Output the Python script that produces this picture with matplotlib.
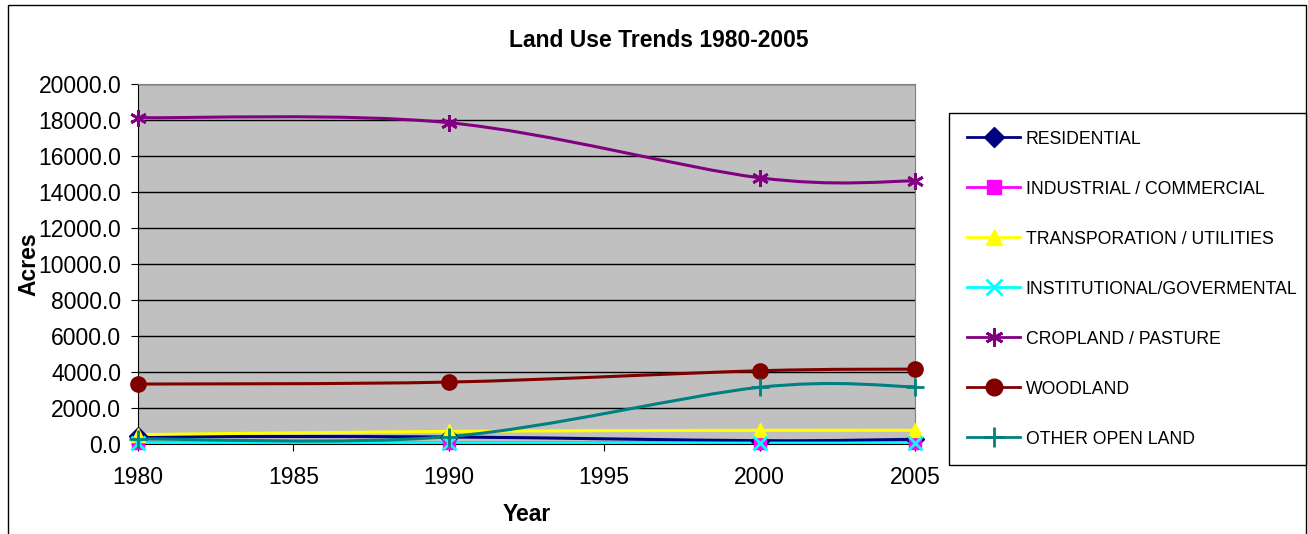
import matplotlib
matplotlib.use('Agg')
import matplotlib.pyplot as plt
from matplotlib.path import Path
from matplotlib.patches import PathPatch, Rectangle
from matplotlib.lines import Line2D
from matplotlib.ticker import FormatStrFormatter

plt.rcParams['font.family'] = ['Liberation Sans', 'DejaVu Sans']

# data
years = [1980, 1990, 2000, 2005]
residential = [420, 390, 185, 260]
industrial = [50, 50, 50, 50]
transportation = [520, 700, 760, 760]
institutional = [40, 40, 40, 40]
cropland = [18130, 17850, 14790, 14610]
woodland = [3330, 3440, 4070, 4160]
other_open = [280, 410, 3150, 3180]

series_names = ['RESIDENTIAL', 'INDUSTRIAL / COMMERCIAL', 'TRANSPORATION / UTILITIES',
                'INSTITUTIONAL/GOVERMENTAL', 'CROPLAND / PASTURE', 'WOODLAND', 'OTHER OPEN LAND']
series_values = [residential, industrial, transportation, institutional, cropland, woodland, other_open]
colors = ['#000080', '#FF00FF', '#FFFF00', '#00FFFF', '#800080', '#800000', '#008080']
markers = ['D', 's', '^', 'x', (6, 2, 0), 'o', '+']
msizes = [9, 9, 10, 10, 12, 11, 13]

W, H = 1308, 534


def smooth_path(xs, ys):
    # Excel style smoothed line: cubic bezier through the points
    pts = list(zip(xs, ys))
    n = len(pts)
    verts = [pts[0]]
    codes = [Path.MOVETO]
    for i in range(n - 1):
        p0 = pts[i - 1] if i > 0 else pts[i]
        p1 = pts[i]
        p2 = pts[i + 1]
        p3 = pts[i + 2] if i + 2 < n else pts[i + 1]
        c1 = (p1[0] + (p2[0] - p0[0]) / 6, p1[1] + (p2[1] - p0[1]) / 6)
        c2 = (p2[0] - (p3[0] - p1[0]) / 6, p2[1] - (p3[1] - p1[1]) / 6)
        verts += [c1, c2, p2]
        codes += [Path.CURVE4] * 3
    return Path(verts, codes)


fig = plt.figure(figsize=(W / 100, H / 100), dpi=100)
ax = fig.add_axes([138 / W, 1 - 444 / H, (915 - 138) / W, (444 - 84) / H])
ax.set_facecolor('#C0C0C0')

for name, vals, c, m, ms in zip(series_names, series_values, colors, markers, msizes):
    patch = PathPatch(smooth_path(years, vals), fill=False, edgecolor=c, lw=2.2,
                      capstyle='round', joinstyle='round')
    ax.add_patch(patch)
    ax.plot(years, vals, linestyle='none', marker=m, color=c, markersize=ms,
            markeredgewidth=2 if m in ('x', '+', (6, 2, 0)) else 1, clip_on=False, zorder=3)

ax.set_xlim(1980, 2005)
ax.set_ylim(0, 20000)
ax.set_xticks(range(1980, 2006, 5))
ax.set_yticks(range(0, 20001, 2000))
ax.yaxis.set_major_formatter(FormatStrFormatter('%.1f'))
ax.grid(axis='y', color='black', lw=1)
ax.set_axisbelow(True)
ax.tick_params(axis='both', labelsize=16.5, length=5, color='black')
ax.tick_params(axis='y', pad=7)
ax.tick_params(axis='x', pad=11)
for s in ('top', 'right'):
    ax.spines[s].set_color('#808080')
ax.spines['left'].set_color('black')
ax.spines['bottom'].set_color('black')

fig.text(658.5 / W, 1 - 47 / H, 'Land Use Trends 1980-2005', ha='center', va='baseline',
         fontsize=16.5, fontweight='bold')
fig.text(28.5 / W, 1 - 264 / H, 'Acres', rotation=90, ha='center', va='center',
         fontsize=16.5, fontweight='bold')
fig.text(526.5 / W, 1 - 521 / H, 'Year', ha='center', va='baseline',
         fontsize=16.5, fontweight='bold')

handles = [Line2D([], [], color=c, marker=m, markersize=ms + 1, lw=2,
                  markeredgewidth=2 if m in ('x', '+', (6, 2, 0)) else 1)
           for c, m, ms in zip(colors, markers, msizes)]
leg = fig.legend(handles, series_names, loc='upper left',
                 bbox_to_anchor=(949 / W, 1 - 464 / H, (1306 - 949) / W, (464 - 113) / H),
                 mode='expand', prop={'size': 12.7},
                 handlelength=3.05, handletextpad=0.3, labelspacing=1.87,
                 borderpad=1.0, borderaxespad=0, fancybox=False, framealpha=1,
                 edgecolor='black')
leg.get_frame().set_linewidth(1)

# outer chart border (bottom edge falls outside the image)
fig.patches.append(Rectangle((8 / W, -0.1), (1306 - 8) / W, 1.1 - 5 / H,
                             transform=fig.transFigure, fill=False, edgecolor='black', lw=1))

fig.savefig('out.png', dpi=100)
